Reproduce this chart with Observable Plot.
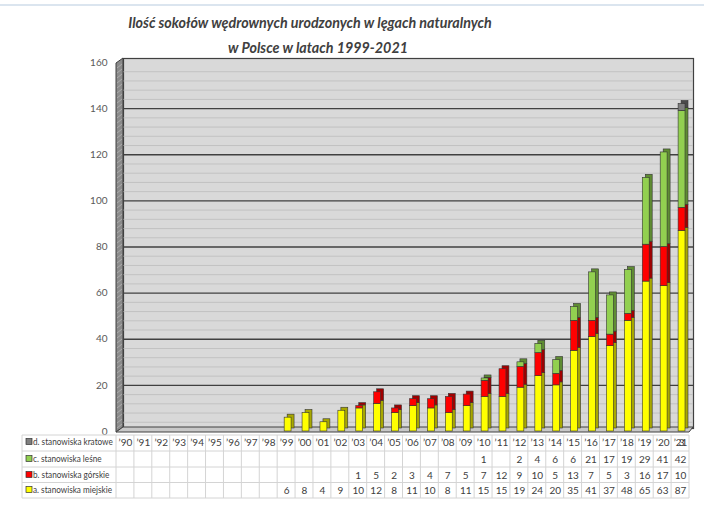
<!DOCTYPE html>
<html><head><meta charset="utf-8">
<script src="https://cdn.jsdelivr.net/npm/d3@7"></script>
<script src="https://cdn.jsdelivr.net/npm/@observablehq/plot@0.6"></script>
<style>
body{margin:0;background:#fff;width:704px;height:518px;overflow:hidden;position:relative;}
#topline{position:absolute;top:4px;left:0;width:704px;height:2px;background:#dbe5ef;}
.title{position:absolute;left:0;width:620px;text-align:center;font:italic bold 14.3px Lato, sans-serif;color:#404040;line-height:25px;white-space:nowrap;}
#t1{top:10px;}
#t2{top:35px;left:8px;}
#chart{position:absolute;top:52px;left:0;}
</style></head><body>
<div id="topline"></div>
<div class="title" id="t1">Ilość sokołów wędrownych urodzonych w lęgach naturalnych</div>
<div class="title" id="t2">w Polsce w latach 1999-2021</div>
<div id="chart"></div>
<script>
const years = ["’90","’91","’92","’93","’94","’95","’96","’97","’98","’99","’00","’01","’02","’03","’04","’05","’06","’07","’08","’09","’10","’11","’12","’13","’14","’15","’16","’17","’18","’19","’20","’21"];
const seriesNames = ["a. stanowiska miejskie","b. stanowiska górskie","c. stanowiska leśne","d. stanowiska kratowe"];
const miejskie = [null,null,null,null,null,null,null,null,null,6,8,4,9,10,12,8,11,10,8,11,15,15,19,24,20,35,41,37,48,65,63,87];
const gorskie  = [null,null,null,null,null,null,null,null,null,null,null,null,null,1,5,2,3,4,7,5,7,12,9,10,5,13,7,5,3,16,17,10];
const lesne    = [null,null,null,null,null,null,null,null,null,null,null,null,null,null,null,null,null,null,null,null,1,null,2,4,6,6,21,17,19,29,41,42];
const kratowe  = [null,null,null,null,null,null,null,null,null,null,null,null,null,null,null,null,null,null,null,null,null,null,null,null,null,null,null,null,null,null,null,3];
const yTicks = [0,20,40,60,80,100,120,140,160];

const frontColors = {"a. stanowiska miejskie":"#ffff00","b. stanowiska górskie":"#ff0000","c. stanowiska leśne":"#92d050","d. stanowiska kratowe":"#7f7f7f"};
const sideColors  = {"a. stanowiska miejskie":"#a8a800","b. stanowiska górskie":"#a00000","c. stanowiska leśne":"#5f8c33","d. stanowiska kratowe":"#4a4a4a"};

const allSeries = [miejskie, gorskie, lesne, kratowe];
const data = [];
allSeries.forEach((arr, si) => arr.forEach((v, i) => { if (v != null) data.push({year: years[i], series: seriesNames[si], value: v}); }));

const minor = d3.range(0, 161, 4).filter(v => v % 20 !== 0);
const barOpts = {x: "year", y: "value", order: seriesNames, stroke: "#333", strokeWidth: 0.6, insetLeft: 7, insetRight: 4};

const rowDy = {"d. stanowiska kratowe": 11, "c. stanowiska leśne": 28, "b. stanowiska górskie": 44, "a. stanowiska miejskie": 59};
const txtStyle = {fontSize: 10, fill: "#404040"};

const marks = [
  Plot.frame({fill: "#d9d9d9", stroke: "#404040", strokeWidth: 1.2, insetLeft: 7, insetRight: -4, insetTop: -4, insetBottom: 3}),
  Plot.ruleY(minor, {stroke: "#c2c2c2", strokeWidth: 1, insetLeft: 7, insetRight: -4}),
  Plot.ruleY(yTicks.filter(v => v > 0 && v < 160), {stroke: "#404040", strokeWidth: 1.3, insetLeft: 7, insetRight: -4}),
  Plot.axisY({ticks: yTicks, tickSize: 0, tickPadding: 9, fontSize: 10, fill: "#595959", label: null}),
  Plot.barY(data, {...barOpts, fill: d => sideColors[d.series], dx: 3, dy: -3}),
  Plot.barY(data, {...barOpts, fill: d => frontColors[d.series]}),
  Plot.text(years, {x: d => d, y: () => 0, dy: 11, text: d => d, ...txtStyle})
];
seriesNames.forEach(s => {
  marks.push(Plot.text(data.filter(d => d.series === s), {x: "year", y: () => 0, dy: rowDy[s], dx: s === "d. stanowiska kratowe" ? 1 : 0, text: d => String(d.value), ...txtStyle}));
});

const plot = Plot.plot({
  width: 704, height: 466,
  marginLeft: 116, marginRight: 15, marginTop: 10, marginBottom: 87,
  x: {domain: years, type: "band", padding: 0, round: false, axis: null},
  y: {domain: [0, 160], axis: null},
  color: {type: "identity"},
  style: {fontFamily: "Lato, sans-serif", fontSize: "10px", color: "#404040", background: "transparent", overflow: "visible"},
  marks
});

const svg = d3.select(plot);
const xs = plot.scale("x"), ys = plot.scale("y");
const bw = xs.bandwidth;
const y0 = ys.apply(0), yt = ys.apply(160);
const xL = xs.apply(years[0]), xR = xs.apply(years[years.length - 1]) + bw;

// 3D wall and floor, inserted behind bars
const g = svg.insert("g", "g[aria-label=bar]");
g.append("path").attr("d", `M${xL},${y0+1}L${xL+7},${y0-4}L${xL+7},${yt-4}L${xL},${yt+1}Z`).attr("fill", "#8a8a8a").attr("stroke", "#404040").attr("stroke-width", 1);
for (let yy = yt + 6; yy < y0; yy += 5) {
  g.append("line").attr("x1", xL + 1).attr("y1", yy).attr("x2", xL + 6).attr("y2", yy - 4).attr("stroke", "#b5b5b5").attr("stroke-width", 0.8);
}
g.append("path").attr("d", `M${xL},${y0+1}L${xR},${y0+1}L${xR+4},${y0-4}L${xL+7},${y0-4}Z`).attr("fill", "#c8c8c8").attr("stroke", "#404040").attr("stroke-width", 1);

// data table grid
const tg = svg.append("g").attr("stroke", "#d4d4d4").attr("stroke-width", 1);
const tableLeft = 22;
const rowLines = [4, 20, 36, 51.5, 67].map(d => y0 + d);
rowLines.forEach(yy => tg.append("line").attr("x1", tableLeft).attr("x2", xR).attr("y1", yy).attr("y2", yy));
const colLines = [tableLeft, ...years.map(y => xs.apply(y)), xR];
colLines.forEach(xx => tg.append("line").attr("x1", xx).attr("x2", xx).attr("y1", rowLines[0]).attr("y2", rowLines[4]));
svg.selectAll("g[aria-label=text]").raise();

// row labels with legend keys
const lg = svg.append("g");
seriesNames.forEach(s => {
  const cy = y0 + rowDy[s];
  lg.append("rect").attr("x", 26).attr("y", cy - 3.5).attr("width", 6).attr("height", 6).attr("fill", frontColors[s]).attr("stroke", "#333").attr("stroke-width", 0.7);
  lg.append("g").attr("transform", `translate(33,${cy}) scale(0.82,1)`)
    .append("text").attr("font-family", "Lato, sans-serif").attr("font-size", 10).attr("fill", "#404040").attr("text-anchor", "start")
    .attr("dy", "0.32em").text(s);
});

document.getElementById("chart").appendChild(plot);
</script>
</body></html>
